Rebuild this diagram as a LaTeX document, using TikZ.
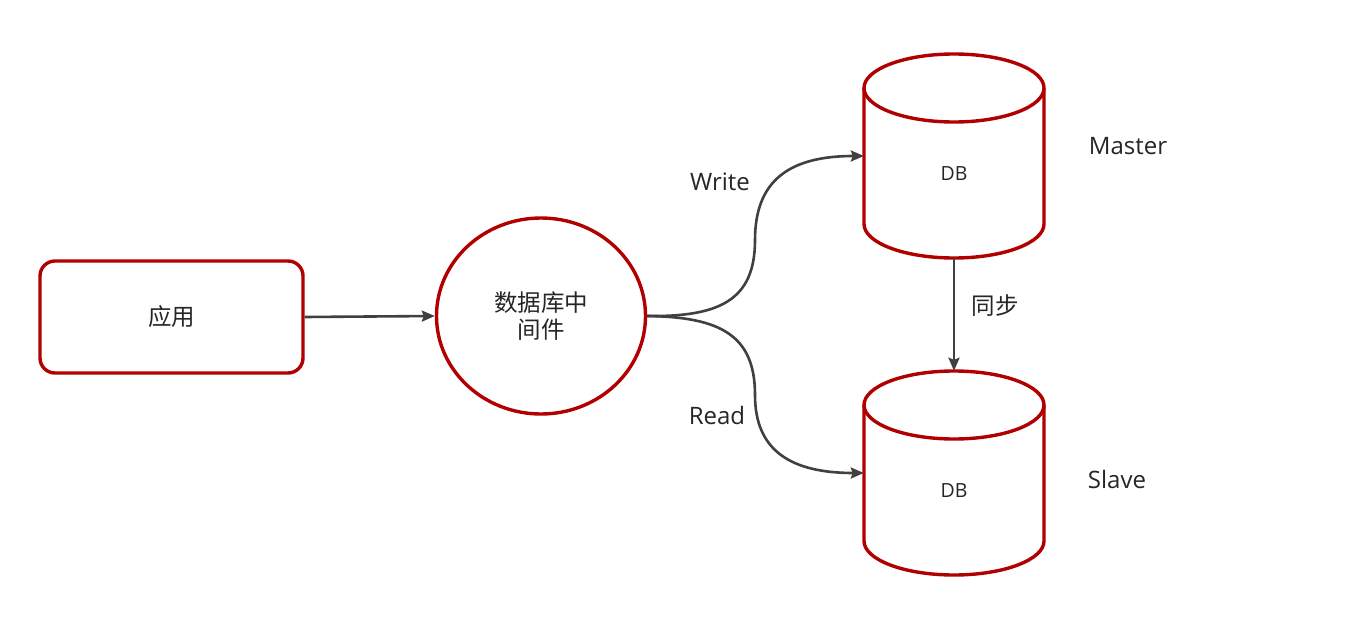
\documentclass[tikz,border=0pt]{standalone}
\usepackage{fontspec}
\setmainfont{Open Sans}
\newfontfamily\cjk{Noto Sans CJK SC}
\usetikzlibrary{shapes.geometric,arrows.meta}
\definecolor{dbred}{HTML}{B00000}
\definecolor{lineg}{HTML}{404040}
\definecolor{txt}{HTML}{262626}
\tikzset{
  redline/.style={draw=dbred,line width=3.4pt},
  conn/.style={draw=lineg,line width=2.6pt,-{Stealth[length=13pt,width=11pt,inset=2pt]}},
  lbl/.style={text=txt,font=\fontsize{24}{28}\selectfont,inner sep=0pt},
  cjklbl/.style={text=txt,font=\cjk\fontsize{23.5}{27}\selectfont,inner sep=0pt,align=center},
  dblbl/.style={text=txt,font=\fontsize{19.5}{22}\selectfont,inner sep=0pt},
  dbbox/.style={minimum width=180pt,minimum height=204pt,inner sep=0pt,draw=none}
}
\begin{document}
\begin{tikzpicture}[x=1pt,y=1pt]
\useasboundingbox[fill=white] (0,0) rectangle (1354,-642);
% app box
\node[redline,rounded corners=15pt,minimum width=263pt,minimum height=112pt,cjklbl] (app) at (171.5,-317) {应用};
% middleware
\node[redline,ellipse,minimum width=209pt,minimum height=196pt,cjklbl] (mid) at (541,-316) {数据库中\\间件};
% master cylinder
\node[dbbox] (master) at (954,-156) {};
\draw[redline] (954,-88) ellipse (90 and 34);
\draw[redline] (864,-88) -- (864,-224) arc (180:360:90 and 34) -- (1044,-88);
\node[dblbl] (mdb) at (954,-174) {DB};
% slave cylinder
\node[dbbox] (slave) at (954,-473) {};
\draw[redline] (954,-405) ellipse (90 and 34);
\draw[redline] (864,-405) -- (864,-541) arc (180:360:90 and 34) -- (1044,-405);
\node[dblbl] (sdb) at (954,-491) {DB};
% labels
\node[lbl] (mlbl) at (1128,-146) {Master};
\node[lbl] (slbl) at (1117,-479) {Slave};
\node[lbl] (wlbl) at (720,-182) {Write};
\node[lbl] (rlbl) at (717,-415) {Read};
\node[cjklbl] (sync) at (995,-306) {同步};
% connectors
\coordinate (wbend) at (755,-240);
\coordinate (rbend) at (755,-395);
\draw[conn] (app.east) -- (mid.west);
\draw[conn] (mid.east) .. controls (720,-317) and (755,-300) .. (wbend)
  .. controls (755,-180) and (790,-156) .. (master.west);
\draw[conn] (mid.east) .. controls (720,-317) and (755,-335) .. (rbend)
  .. controls (755,-450) and (790,-473) .. (slave.west);
\draw[conn] (master.south) -- (slave.north);
\end{tikzpicture}
\end{document}
